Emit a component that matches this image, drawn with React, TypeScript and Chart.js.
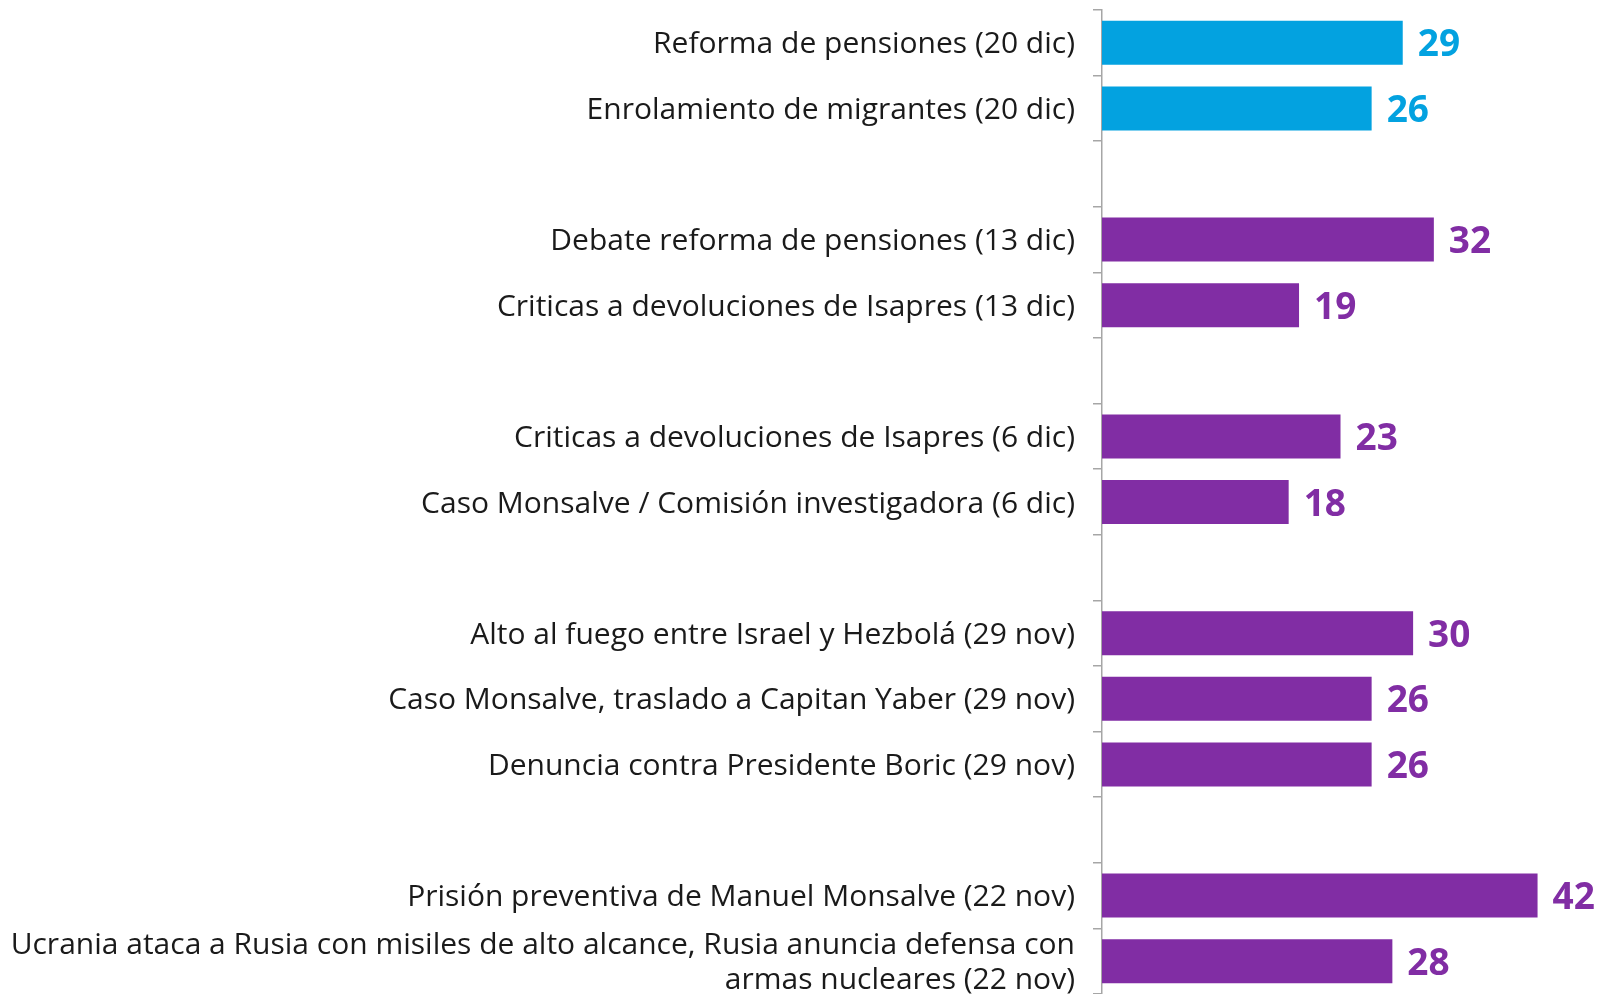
import React, { useEffect, useRef } from "react";
import { Chart, registerables } from "chart.js";

Chart.register(...registerables);

const categories: (string | string[])[] = [
  "Reforma de pensiones (20 dic)",
  "Enrolamiento de migrantes (20 dic)",
  "",
  "Debate reforma de pensiones (13 dic)",
  "Criticas a devoluciones de Isapres (13 dic)",
  "",
  "Criticas a devoluciones de Isapres (6 dic)",
  "Caso Monsalve / Comisión investigadora (6 dic)",
  "",
  "Alto al fuego entre Israel y Hezbolá (29 nov)",
  "Caso Monsalve, traslado a Capitan Yaber (29 nov)",
  "Denuncia contra Presidente Boric (29 nov)",
  "",
  "Prisión preventiva de Manuel Monsalve (22 nov)",
  [
    "Ucrania ataca a Rusia con misiles de alto alcance, Rusia anuncia defensa con",
    "armas nucleares (22 nov)",
  ],
];

const values: (number | null)[] = [29, 26, null, 32, 19, null, 23, 18, null, 30, 26, 26, null, 42, 28];

const BLUE = "#03A2E0";
const PURPLE = "#812DA4";
const barColors: string[] = [
  BLUE, BLUE, PURPLE, PURPLE, PURPLE, PURPLE, PURPLE, PURPLE,
  PURPLE, PURPLE, PURPLE, PURPLE, PURPLE, PURPLE, PURPLE,
];

const valueLabelPlugin = {
  id: "valueLabels",
  afterDatasetsDraw(chart: any) {
    const ctx = chart.ctx;
    const meta = chart.getDatasetMeta(0);
    ctx.save();
    ctx.font = "700 37px 'Open Sans'";
    ctx.textAlign = "left";
    ctx.textBaseline = "middle";
    meta.data.forEach((el: any, i: number) => {
      const v = values[i];
      if (v === null || v === undefined) return;
      ctx.fillStyle = barColors[i];
      ctx.fillText(String(v), el.x + 15, el.y + 3);
    });
    ctx.restore();
  },
};

export default function App() {
  const ref = useRef<HTMLCanvasElement>(null);
  useEffect(() => {
    document.body.style.margin = "0";
    const chart = new Chart(ref.current!, {
      type: "bar",
      data: {
        labels: categories,
        datasets: [
          {
            data: values,
            backgroundColor: barColors,
            barPercentage: 0.67,
            categoryPercentage: 1,
          },
        ],
      },
      options: {
        indexAxis: "y",
        responsive: false,
        animation: false,
        layout: { padding: { top: 10, bottom: 0, left: 0, right: 0 } },
        plugins: {
          legend: { display: false },
          tooltip: { enabled: false },
        },
        scales: {
          x: { display: false, min: 0, max: 48.6 },
          y: {
            afterFit: (scale: any) => {
              scale.width = 1102;
              scale.paddingTop = 0;
              scale.paddingBottom = 0;
            },
            border: { display: true, color: "#a6a6a6", width: 1.5 },
            grid: {
              drawOnChartArea: false,
              drawTicks: true,
              tickLength: 9,
              color: "#a6a6a6",
              lineWidth: 1.5,
              offset: true,
            },
            ticks: {
              padding: 18,
              labelOffset: 2,
              color: "#1a1a1a",
              autoSkip: false,
              font: { family: "'Open Sans'", size: 30, lineHeight: 1.17 },
            },
          },
        },
      },
      plugins: [valueLabelPlugin],
    });
    return () => chart.destroy();
  }, []);
  return (
    <canvas
      ref={ref}
      width={1606}
      height={994}
      style={{ position: "absolute", left: 0, top: 0, display: "block" }}
    />
  );
}
